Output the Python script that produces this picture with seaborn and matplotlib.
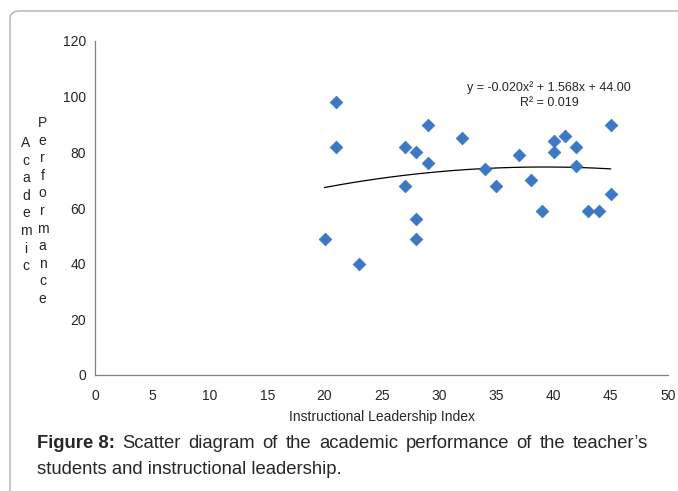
import matplotlib
matplotlib.use("Agg")
import matplotlib.pyplot as plt
import numpy as np
import pandas as pd
import seaborn as sns
from matplotlib.patches import FancyBboxPatch

# Data
leadership_index = [20, 21, 21, 23, 27, 27, 28, 28, 28, 29, 29, 32, 34,
                    35, 37, 38, 39, 40, 40, 41, 42, 42, 43, 44, 45, 45]
academic_perf = [49, 98, 82, 40, 82, 68, 80, 56, 49, 90, 76, 85, 74,
                 68, 79, 70, 59, 84, 80, 86, 82, 75, 59, 59, 90, 65]
trend_coef = [-0.020, 1.568, 44.00]   # quadratic trend shown on the chart
r_squared = 0.019

x_ticks = list(range(0, 55, 5))
y_ticks = list(range(0, 140, 20))

W, H = 678, 491

sns.set_theme(style="white")
plt.rcParams["font.family"] = ["Liberation Sans", "DejaVu Sans"]

df = pd.DataFrame({"x": leadership_index, "y": academic_perf})

fig = plt.figure(figsize=(W / 100, H / 100), dpi=100)

# rounded frame around the figure panel
frame = FancyBboxPatch((10 / W, -0.2), 1.2, 1 - 11 / H + 0.2,
                       boxstyle="round,pad=0,rounding_size=0.015",
                       transform=fig.transFigure, fill=False,
                       edgecolor="#b0b0b0", linewidth=1.0)
fig.patches.append(frame)

ax = fig.add_axes([95.5 / W, 1 - 375 / H, (668 - 95.5) / W, (375 - 41) / H])

sns.scatterplot(data=df, x="x", y="y", marker="D", s=42, color="#3c78c3",
                edgecolor="#3c78c3", linewidth=0.5, ax=ax, zorder=3)

xs = np.linspace(min(leadership_index), max(leadership_index), 200)
ys = np.polyval(trend_coef, xs)
ax.plot(xs, ys, color="black", linewidth=0.9, zorder=2)

ax.set_xlim(0, 50)
ax.set_ylim(0, 120)
ax.set_xticks(x_ticks)
ax.set_yticks(y_ticks)
ax.tick_params(axis="both", labelsize=10, length=4, width=0.8,
               color="#808080", direction="out", pad=3)
ax.tick_params(axis="x", pad=6)
for side in ["top", "right"]:
    ax.spines[side].set_visible(False)
for side in ["left", "bottom"]:
    ax.spines[side].set_color("#808080")
    ax.spines[side].set_linewidth(0.9)

ax.set_xlabel("Instructional Leadership Index", fontsize=10, labelpad=5)
ax.set_ylabel("")

eq = f"y = {trend_coef[0]:.3f}x\u00b2 + {trend_coef[1]:.3f}x + {trend_coef[2]:.2f}"
ax.text(39.6, 103.3, eq, fontsize=9, ha="center", va="center")
ax.text(39.6, 97.8, f"R\u00b2 = {r_squared:.3f}", fontsize=9,
        ha="center", va="center")

# stacked vertical y label, one letter per line
step = 17.6
for i, ch in enumerate("Academic"):
    fig.text(26 / W, 1 - (143 + i * step) / H, ch, fontsize=10,
             ha="center", va="center")
for i, ch in enumerate("Performance"):
    fig.text(42.5 / W, 1 - (123 + i * step) / H, ch, fontsize=10,
             ha="center", va="center")

# caption, first line justified like the journal layout
cap_size = 13.3
cap_left, cap_right = 37, 648
line1_y = 1 - 444 / H
renderer = fig.canvas.get_renderer()
pieces = [("Figure 8:", "bold")] + [
    (w, "normal") for w in
    "Scatter diagram of the academic performance of the teacher\u2019s".split()]
texts = [fig.text(0, line1_y, t, fontsize=cap_size, fontweight=fw,
                  ha="left", va="center") for t, fw in pieces]
widths = [t.get_window_extent(renderer).width for t in texts]
gap = (cap_right - cap_left - sum(widths)) / (len(texts) - 1)
x = cap_left
for t, w in zip(texts, widths):
    t.set_x(x / W)
    x += w + gap

fig.text(cap_left / W, 1 - 469 / H,
         "students and instructional leadership.",
         fontsize=cap_size, ha="left", va="center")

fig.savefig("out.png", dpi=100)
